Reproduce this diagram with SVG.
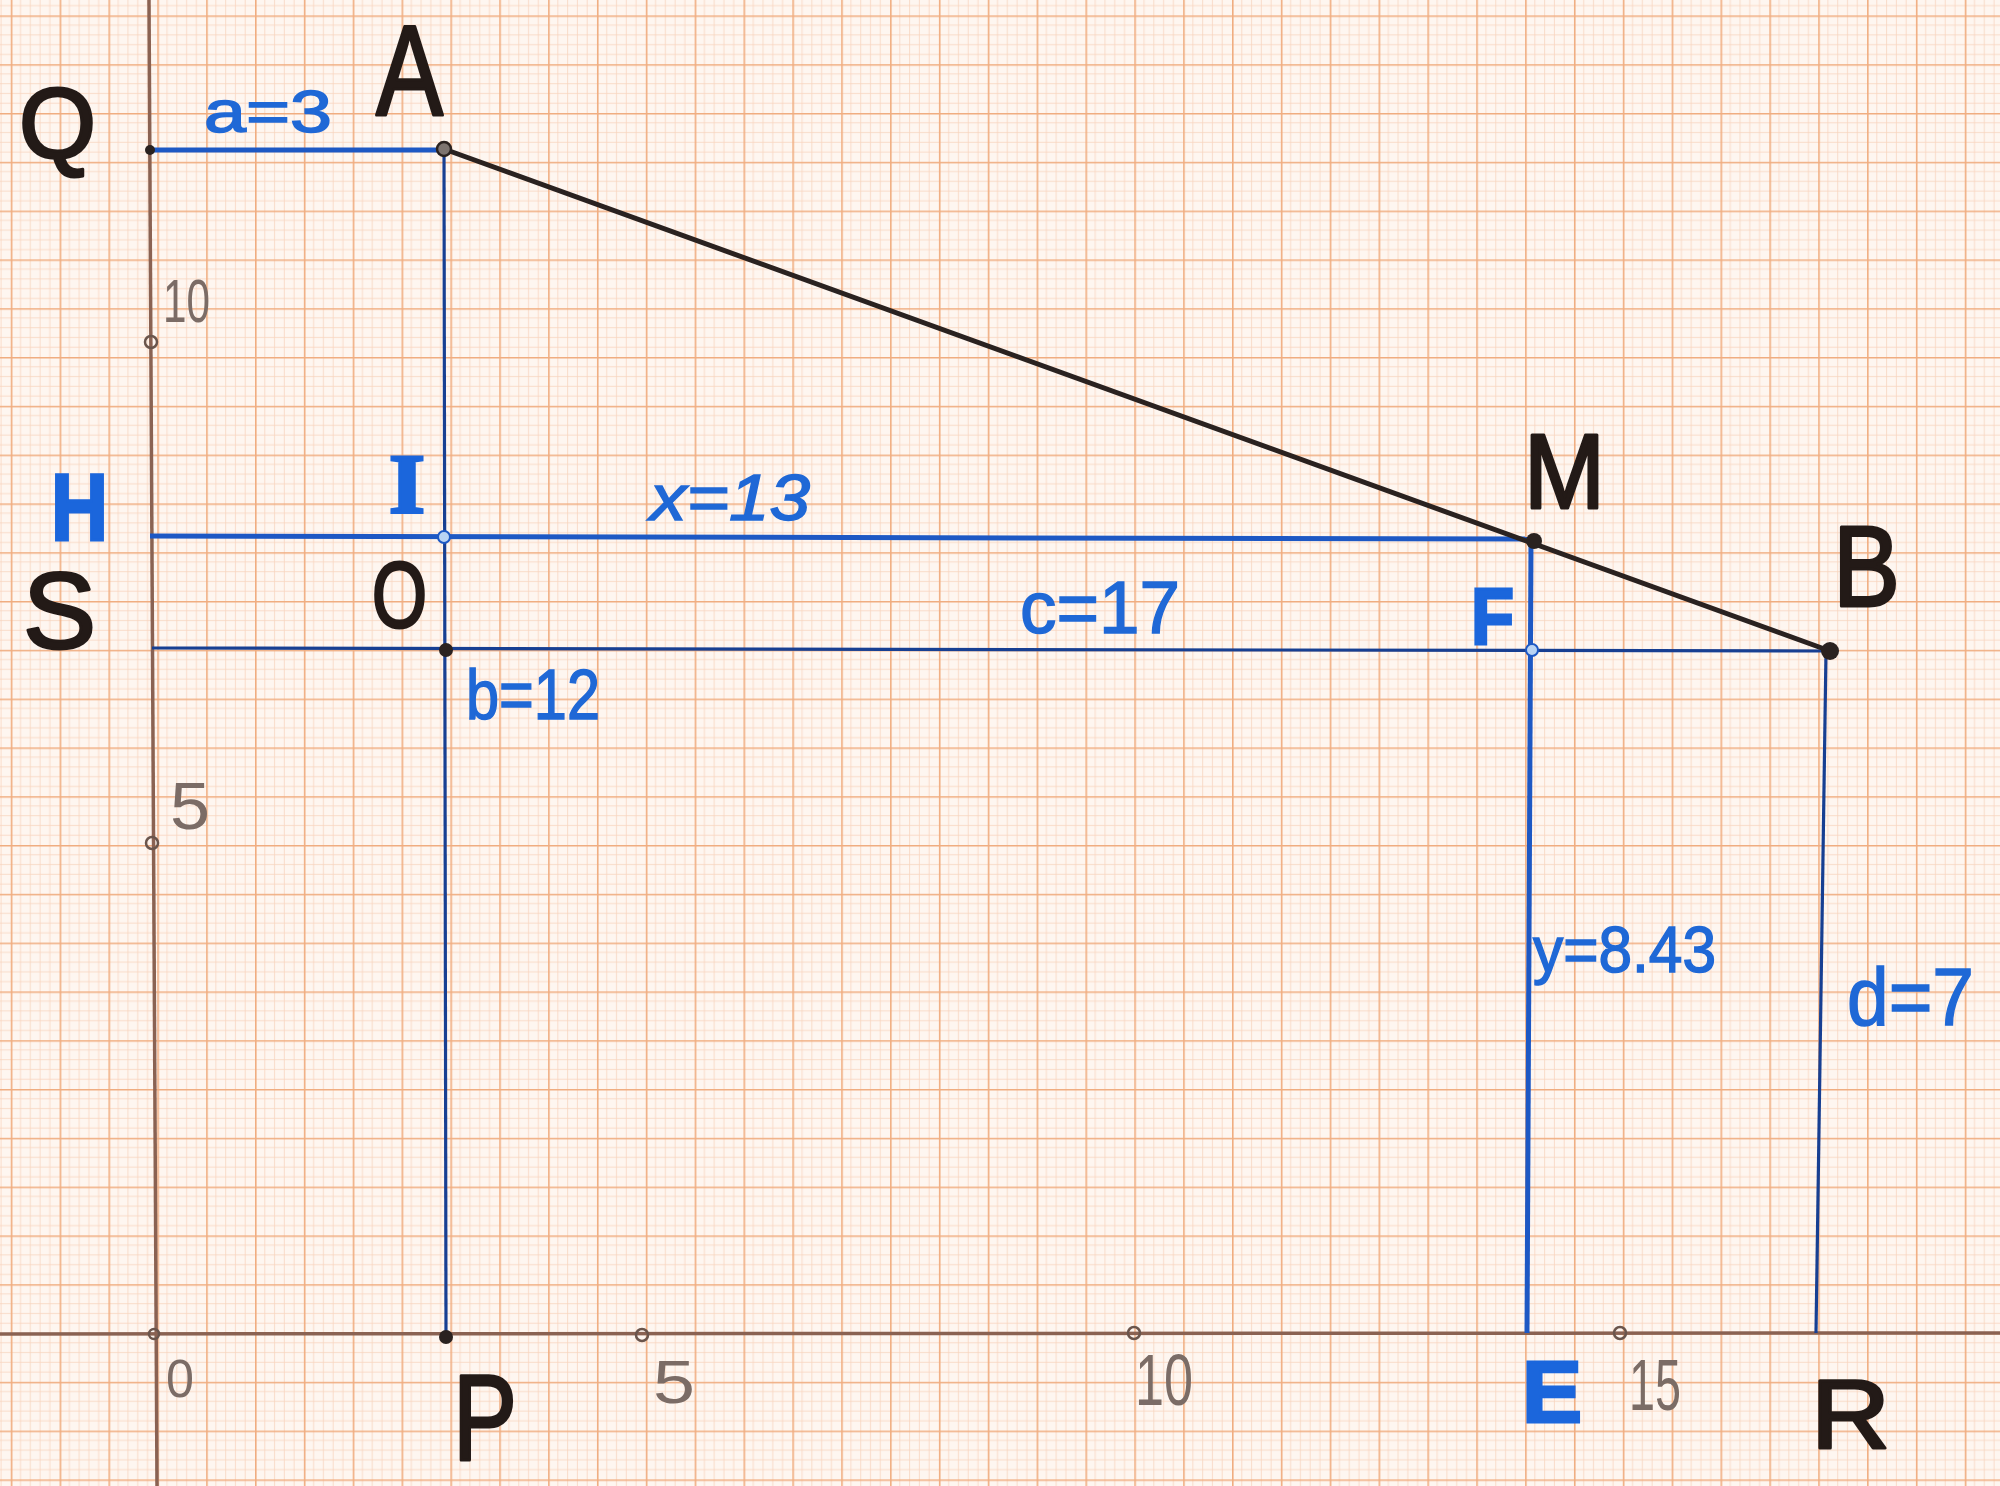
<svg xmlns="http://www.w3.org/2000/svg" width="2000" height="1486" viewBox="0 0 2000 1486">
<defs>
<pattern id="grid" patternUnits="userSpaceOnUse" x="10.75" y="15.4" width="48.85" height="48.8">
<rect width="48.85" height="48.8" fill="#fef6f0"/>
<g stroke="#f7d4be" stroke-width="0.8">
<line x1="9.77" y1="0" x2="9.77" y2="48.8"/>
<line x1="19.54" y1="0" x2="19.54" y2="48.8"/>
<line x1="29.31" y1="0" x2="29.31" y2="48.8"/>
<line x1="39.08" y1="0" x2="39.08" y2="48.8"/>
<line x1="0" y1="9.76" x2="48.85" y2="9.76"/>
<line x1="0" y1="19.52" x2="48.85" y2="19.52"/>
<line x1="0" y1="29.28" x2="48.85" y2="29.28"/>
<line x1="0" y1="39.04" x2="48.85" y2="39.04"/>
</g>
<g stroke="#f0ad80" stroke-width="1.6">
<line x1="0.8" y1="0" x2="0.8" y2="48.8"/>
<line x1="0" y1="0.8" x2="48.85" y2="0.8"/>
</g>
</pattern>
<style>
.blk{font-family:"Liberation Sans","DejaVu Sans",sans-serif;fill:#231a17;stroke:#231a17;stroke-width:3;stroke-linejoin:round}
.blu{font-family:"Liberation Sans","DejaVu Sans",sans-serif;fill:#1f68d6;stroke:#1f68d6;stroke-width:1.5}
.bluB{font-family:"Liberation Sans","DejaVu Sans",sans-serif;fill:#1b66dc;stroke:#1b66dc;stroke-width:3;font-weight:bold}
.serif{font-family:"Liberation Serif","DejaVu Serif",serif}
.gry{font-family:"Liberation Sans","DejaVu Sans",sans-serif;fill:#7b6c66;stroke:none}
.axis{stroke:#8a6252;stroke-width:3.5;fill:none}
.navy{stroke:#173f92;stroke-width:3.2;fill:none}
.bright{stroke:#1d58c4;stroke-width:5;fill:none}
.seg{stroke:#2a2220;stroke-width:5;fill:none;stroke-linecap:round}
.tick{fill:none;stroke:#6a554c;stroke-width:2.5}
.dot{fill:#2a2220}
.bdot{fill:#b9d3f3;stroke:#1d58c4;stroke-width:2}
</style>
</defs>
<rect width="2000" height="1486" fill="url(#grid)"/>

<g id="axes">
<line class="axis" x1="149" y1="0" x2="157" y2="1486"/>
<line class="axis" x1="0" y1="1334" x2="2000" y2="1333"/>
<circle class="tick" cx="151" cy="342" r="6"/>
<circle class="tick" cx="152" cy="843" r="6"/>
<circle class="tick" cx="154" cy="1334" r="5"/>
<circle class="tick" cx="642" cy="1335" r="6"/>
<circle class="tick" cx="1134" cy="1333" r="6"/>
<circle class="tick" cx="1620" cy="1333" r="6"/>
<text class="gry" x="163" y="322" font-size="62" textLength="47" lengthAdjust="spacingAndGlyphs">10</text>
<text class="gry" x="170" y="829" font-size="66" textLength="40" lengthAdjust="spacingAndGlyphs">5</text>
<text class="gry" x="166" y="1397" font-size="54" textLength="28" lengthAdjust="spacingAndGlyphs">0</text>
<text class="gry" x="653" y="1403" font-size="62" textLength="42" lengthAdjust="spacingAndGlyphs">5</text>
<text class="gry" x="1135" y="1405" font-size="72" textLength="58" lengthAdjust="spacingAndGlyphs">10</text>
<text class="gry" x="1629" y="1410" font-size="72" textLength="52" lengthAdjust="spacingAndGlyphs">15</text>
</g>

<g id="connectors">
<line class="bright" x1="150" y1="150" x2="444" y2="150" stroke-width="4"/>
<line class="navy" x1="444" y1="152" x2="446" y2="1337"/>
<line class="bright" x1="150" y1="536" x2="1531" y2="539"/>
<line class="navy" x1="152" y1="648" x2="1828" y2="651"/>
<line class="bright" x1="1531" y1="542" x2="1527" y2="1333" stroke-width="4.5"/>
<line class="navy" x1="1826" y1="652" x2="1816" y2="1333"/>
<line class="seg" x1="444" y1="149" x2="1830" y2="651"/>
<text class="blu" x="204" y="132" font-size="60" textLength="128" lengthAdjust="spacingAndGlyphs">a=3</text>
<text class="blu" x="650" y="520" font-size="64" font-style="italic" textLength="160" lengthAdjust="spacingAndGlyphs">x=13</text>
<text class="blu" x="1020" y="633" font-size="74" textLength="160" lengthAdjust="spacingAndGlyphs">c=17</text>
<text class="blu" x="466" y="719" font-size="70" textLength="134" lengthAdjust="spacingAndGlyphs">b=12</text>
<text class="blu" x="1533" y="972" font-size="64" textLength="183" lengthAdjust="spacingAndGlyphs">y=8.43</text>
<text class="blu" x="1847" y="1025" font-size="82" textLength="127" lengthAdjust="spacingAndGlyphs">d=7</text>
</g>

<g id="node-Q">
<circle class="dot" cx="150" cy="150" r="5"/>
<text class="blk" x="19" y="158" font-size="100" textLength="77" lengthAdjust="spacingAndGlyphs">Q</text>
</g>
<g id="node-A">
<circle cx="444" cy="149" r="7" fill="#7d7470" stroke="#2a2220" stroke-width="2.5"/>
<text class="blk" x="376" y="115" font-size="128" textLength="67" lengthAdjust="spacingAndGlyphs">A</text>
</g>
<g id="node-H">
<text class="bluB" x="51" y="540" font-size="95" textLength="57" lengthAdjust="spacingAndGlyphs">H</text>
</g>
<g id="node-I">
<circle class="bdot" cx="444" cy="537" r="6"/>
<text class="bluB serif" x="389" y="513" font-size="85" textLength="36" lengthAdjust="spacingAndGlyphs">I</text>
</g>
<g id="node-S">
<text class="blk" x="23" y="648" font-size="108" textLength="73" lengthAdjust="spacingAndGlyphs">S</text>
</g>
<g id="node-O">
<circle class="dot" cx="446" cy="650" r="7"/>
<text class="blk" x="372" y="627" font-size="92" textLength="55" lengthAdjust="spacingAndGlyphs">O</text>
</g>
<g id="node-M">
<circle class="dot" cx="1534" cy="541" r="8"/>
<text class="blk" x="1524" y="508" font-size="105" textLength="81" lengthAdjust="spacingAndGlyphs">M</text>
</g>
<g id="node-F">
<circle class="bdot" cx="1532" cy="650" r="6"/>
<text class="bluB" x="1471" y="644" font-size="80" textLength="43" lengthAdjust="spacingAndGlyphs">F</text>
</g>
<g id="node-B">
<circle class="dot" cx="1830" cy="651" r="9"/>
<text class="blk" x="1833" y="606" font-size="115" textLength="67" lengthAdjust="spacingAndGlyphs">B</text>
</g>
<g id="node-P">
<circle class="dot" cx="446" cy="1337" r="7"/>
<text class="blk" x="453" y="1460" font-size="122" textLength="64" lengthAdjust="spacingAndGlyphs">P</text>
</g>
<g id="node-E">
<text class="bluB" x="1522" y="1422" font-size="88" textLength="60" lengthAdjust="spacingAndGlyphs">E</text>
</g>
<g id="node-R">
<text class="blk" x="1811" y="1448" font-size="98" textLength="79" lengthAdjust="spacingAndGlyphs">R</text>
</g>
</svg>
